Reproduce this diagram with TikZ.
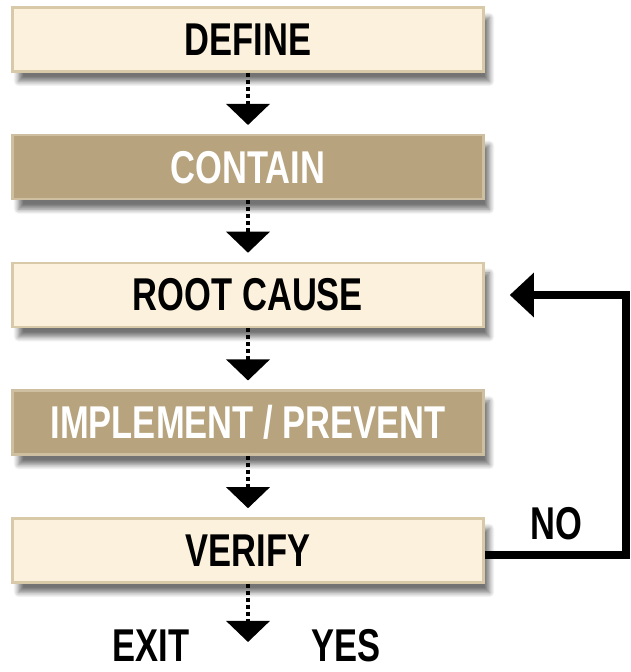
\documentclass[tikz,border=0pt]{standalone}
\usepackage{fontspec}
\usepackage{xcolor}
\usepackage{tikz}
\usetikzlibrary{arrows.meta,positioning,shadows.blur}
\newfontfamily\stepfont[FakeStretch=0.75]{Liberation Sans}
\definecolor{cream}{HTML}{FCF1DC}
\definecolor{creamline}{HTML}{D8C9A9}
\definecolor{khaki}{HTML}{B7A47E}
\definecolor{khakiline}{HTML}{CDBF9F}
\tikzset{
  stepbox/.style={rectangle,minimum width=471pt,minimum height=64pt,inner sep=0pt,line width=2.5pt,
    font=\stepfont\bfseries\fontsize{46}{46}\selectfont,
    blur shadow={shadow xshift=6pt,shadow yshift=-10pt,shadow blur radius=5pt,shadow blur steps=8,shadow opacity=55}},
  lightbox/.style={stepbox,fill=cream,draw=creamline,text=black},
  darkbox/.style={stepbox,fill=khaki,draw=khakiline,text=white},
  tag/.style={inner sep=0pt,anchor=base,font=\stepfont\bfseries\fontsize{46}{46}\selectfont},
  flow/.style={draw,line width=3.5pt,dash pattern=on 4pt off 3pt,-{Triangle[width=43pt,length=21pt]}},
  back/.style={draw,line width=8pt,line join=miter,-{Triangle[width=43pt,length=24pt]}}
}
\begin{document}
\begin{tikzpicture}[x=1pt,y=1pt,node distance = 127.75pt]
\useasboundingbox (0,0) rectangle (631,672);
\node[lightbox] (define) at (248,632.5) {DEFINE};
\node[darkbox] (contain) [below of = define] {CONTAIN};
\node[lightbox] (rootcause) [below of = contain] {ROOT CAUSE};
\node[darkbox] (implement) [below of = rootcause] {IMPLEMENT / PREVENT};
\node[lightbox] (verify) [below of = implement] {VERIFY};
\coordinate (out) at (248,30);
\coordinate (corner) at (626,377);

\path (define) edge [flow,shorten >=9pt] (contain);
\path (contain) edge [flow,shorten >=9pt] (rootcause);
\path (rootcause) edge [flow,shorten >=9pt] (implement);
\path (implement) edge [flow,shorten >=9pt] (verify);
\path (verify) edge [flow] (out);
\draw[back,shorten >=25pt] ([yshift=-5pt]verify.east) -| (corner) -- (rootcause.east);

\node[tag] (exit) at (151,10) {EXIT};
\node[tag] (yes) at (346,10) {YES};
\node[tag] (no) at (556,132) {NO};
\end{tikzpicture}
\end{document}
